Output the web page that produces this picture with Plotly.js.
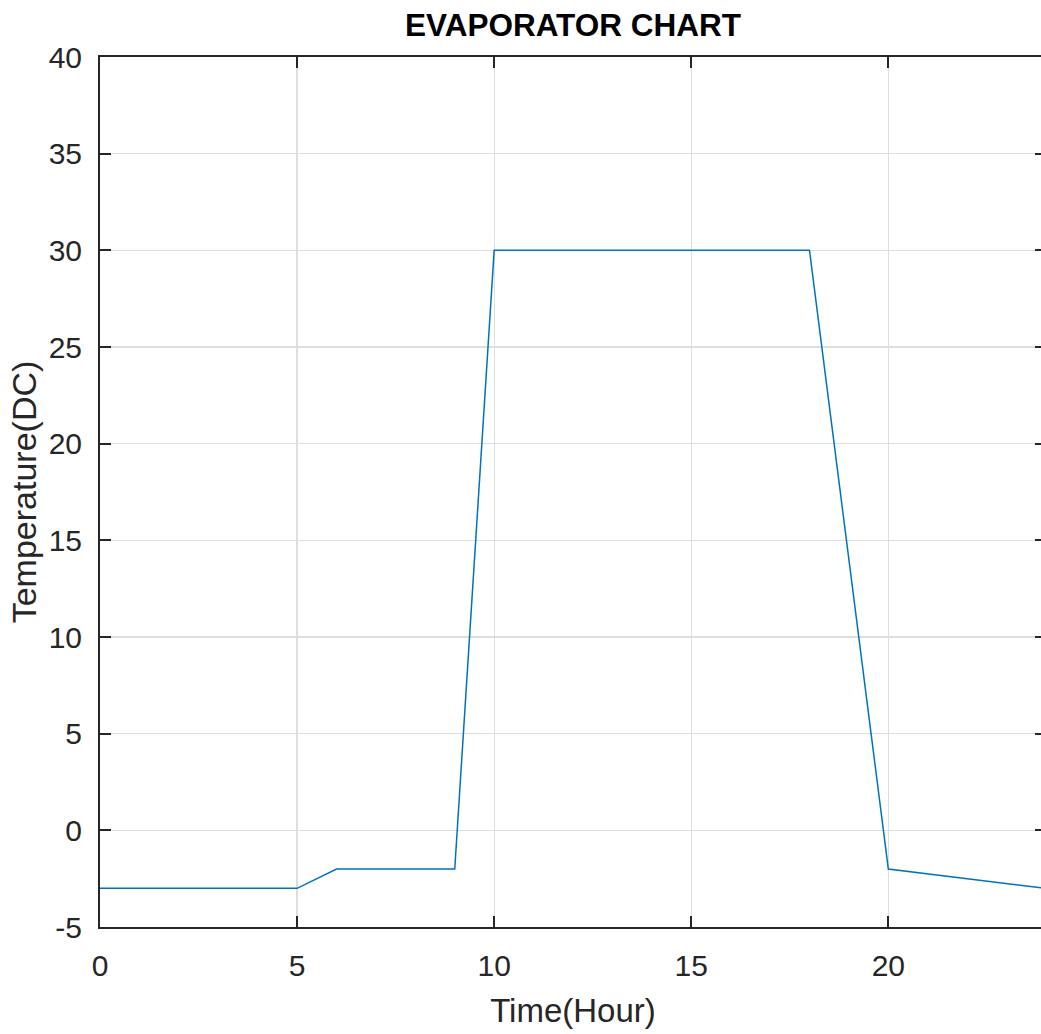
<!DOCTYPE html>
<html>
<head>
<meta charset="utf-8">
<script src="https://cdn.plot.ly/plotly-3.0.1.min.js"></script>
<style>
html,body{margin:0;padding:0;overflow:hidden;background:#fff;}
#chart{width:1047px;height:1034px;}
</style>
</head>
<body>
<div id="chart"></div>
<script>
const hours = [0, 5, 6, 9, 10, 18, 20, 24];
const temps = [-3, -3, -2, -2, 30, 30, -2, -3];
const xTicks = [0, 5, 10, 15, 20];
const yTicks = [-5, 0, 5, 10, 15, 20, 25, 30, 35, 40];
const chartTitle = 'EVAPORATOR CHART';
const xLabel = 'Time(Hour)';
const yLabel = 'Temperature(DC)';

const ink = '#262626';
const fontFam = '"Liberation Sans", Arial, sans-serif';

const trace = {
  x: hours, y: temps, type: 'scatter', mode: 'lines',
  line: {color: '#0072BD', width: 1.5}, hoverinfo: 'skip'
};

const axisCommon = {
  showline: true, linecolor: ink, linewidth: 2, mirror: 'ticks',
  ticks: 'inside', ticklen: 11, tickwidth: 2, tickcolor: ink,
  showgrid: true, gridcolor: '#dedede', gridwidth: 1.2,
  zeroline: false, tickfont: {family: fontFam, size: 30, color: ink},
  automargin: false, fixedrange: true
};

const layout = {
  width: 1047, height: 1034,
  margin: {l: 100, r: 1, t: 57, b: 107, pad: 0},
  paper_bgcolor: '#fff', plot_bgcolor: '#fff',
  showlegend: false,
  title: {
    text: chartTitle, xref: 'paper', x: 0.5, xanchor: 'center',
    yref: 'container', y: 1 - 25/1034, yanchor: 'middle',
    font: {family: fontFam, size: 31.5, color: '#000', weight: 'bold'}
  },
  xaxis: Object.assign({}, axisCommon, {
    range: [0, 24], tickvals: xTicks, ticktext: xTicks.map(String),
    ticklabelstandoff: 11,
    title: {text: xLabel, font: {family: fontFam, size: 33, color: ink}, standoff: 18}
  }),
  yaxis: Object.assign({}, axisCommon, {
    range: [-5, 40], tickvals: yTicks, ticktext: yTicks.map(String),
    ticklabelstandoff: 10,
    title: {text: yLabel, font: {family: fontFam, size: 34, color: ink}, standoff: 2}
  })
};

Plotly.newPlot('chart', [trace], layout, {staticPlot: true, displayModeBar: false});
</script>
</body>
</html>
